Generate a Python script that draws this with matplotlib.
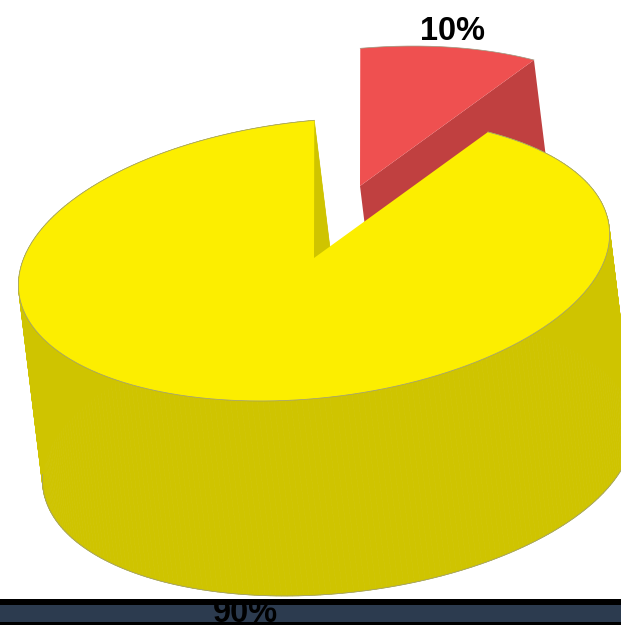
import numpy as np
import matplotlib
matplotlib.use('Agg')
import matplotlib.pyplot as plt
from matplotlib.collections import PolyCollection

labels = ['10%', '90%']
values = [10, 90]

# colores: tapa y lado de cada porcion
red_top = '#EF5050'
red_side = '#C04040'
yellow_top = '#FCEE00'
yellow_side = '#CFC400'
edge = '#9a9a80'

# geometria del pastel en pixeles de la imagen
apex_x, apex_y = 314, 258
cx, cy = 314, 259.5
a, b = 297, 138.5
tilt = np.radians(6.3)
start = -87
depth = np.array([24, 195])
explode = np.array([46, -72])


def arc(t0, t1):
    t = np.radians(np.linspace(t0, t1, 300))
    p = a * np.cos(t)
    q = b * np.sin(t)
    x = cx + p * np.cos(tilt) + q * np.sin(tilt)
    y = cy - p * np.sin(tilt) + q * np.cos(tilt)
    return np.column_stack([x, y])


fig = plt.figure(figsize=(6.21, 6.25), dpi=100)
ax = fig.add_axes([0, 0, 1, 1])
ax.set_xlim(0, 621)
ax.set_ylim(625, 0)
ax.axis('off')

total = sum(values)
red_sweep = 360 * values[0] / total
yellow_sweep = 360 * values[1] / total
center = np.array([apex_x, apex_y])

# porcion roja (separada)
red_arc = arc(start, start + red_sweep) + explode
red_apex = center + explode
cut = np.array([red_apex, red_arc[-1], red_arc[-1] + depth, red_apex + depth])
ax.fill(cut[:, 0], cut[:, 1], color=red_side, lw=0, zorder=1)
red_poly = np.vstack([red_apex, red_arc])
ax.fill(red_poly[:, 0], red_poly[:, 1], color=red_top, lw=0, zorder=2)
ax.plot(red_arc[:, 0], red_arc[:, 1], color=edge, lw=0.5, zorder=2)

# porcion amarilla
yellow_arc = arc(start + red_sweep, start + red_sweep + yellow_sweep)
low_arc = yellow_arc + depth
quads = [[yellow_arc[i], yellow_arc[i + 1], low_arc[i + 1], low_arc[i]]
         for i in range(len(yellow_arc) - 1)]
ax.add_collection(PolyCollection(quads, facecolors=yellow_side, edgecolors=yellow_side,
                                 linewidths=0.5, zorder=3))
# solo la parte delantera del borde inferior
t = np.radians(np.linspace(start + red_sweep, start + red_sweep + yellow_sweep, 300))
front = np.sin(t) > -0.1
ax.plot(low_arc[front, 0], low_arc[front, 1], color=edge, lw=0.5, zorder=3)
inner = np.array([center, yellow_arc[-1], low_arc[-1], center + depth])
ax.fill(inner[:, 0], inner[:, 1], color=yellow_side, lw=0, zorder=3)
yellow_poly = np.vstack([center, yellow_arc])
ax.fill(yellow_poly[:, 0], yellow_poly[:, 1], color=yellow_top, lw=0, zorder=4)
ax.plot(yellow_arc[:, 0], yellow_arc[:, 1], color=edge, lw=0.5, zorder=4)

# barra inferior
ax.axhspan(599, 625, color='black', lw=0, zorder=5)
ax.axhspan(605, 622, color='#2C3B4F', lw=0, zorder=6)

ax.text(452, 40, labels[0], ha='center', va='baseline', fontsize=23.5,
        fontweight='bold', family='Liberation Sans', color='black', zorder=7)
ax.text(245, 622, labels[1], ha='center', va='baseline', fontsize=23.5,
        fontweight='bold', family='Liberation Sans', color='black', zorder=7)

fig.savefig('out.png', dpi=100)
